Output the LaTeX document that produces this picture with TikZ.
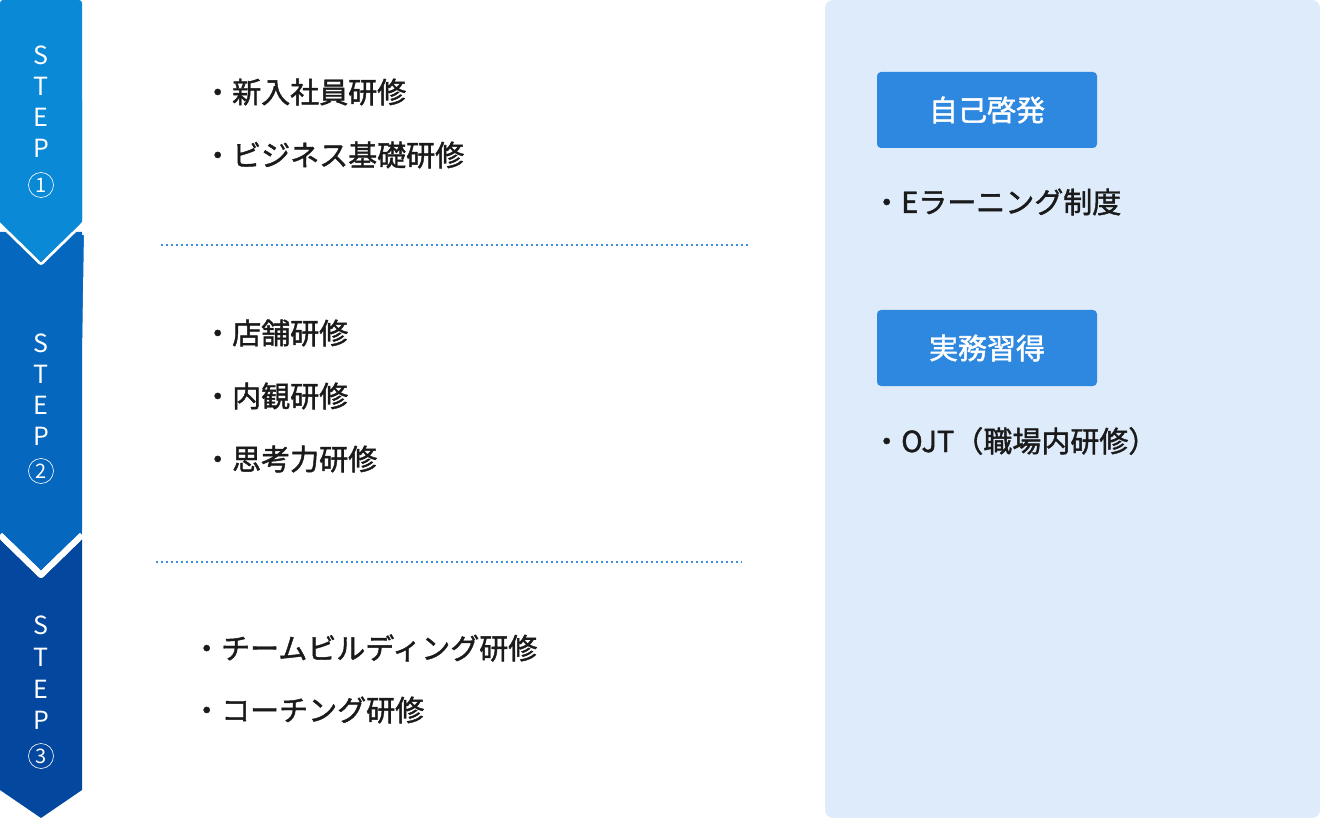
\documentclass[tikz,border=0pt]{standalone}
\usepackage{fontspec}
\setmainfont{Noto Sans CJK JP}
\newfontfamily\jpb{Noto Sans CJK JP}[FakeBold=1.5]
\newfontfamily\stepf{Noto Sans CJK JP}
\definecolor{sone}{HTML}{0A8AD6}
\definecolor{stwo}{HTML}{0568BE}
\definecolor{sthree}{HTML}{03479E}
\definecolor{panel}{HTML}{DDEBFA}
\definecolor{btn}{HTML}{2E88E0}
\definecolor{txt}{HTML}{1A1A1A}
\definecolor{dot}{HTML}{3C8FE0}
\begin{document}
\begin{tikzpicture}[x=1pt,y=-1pt,
  item/.style={anchor=west,font=\jpb\fontsize{29}{30}\selectfont,text=txt,inner sep=0},
  stepl/.style={font=\stepf\fontsize{25}{26}\selectfont,text=white,inner sep=0},
  btnbox/.style={fill=btn,rounded corners=4pt,minimum width=220pt,minimum height=76pt,text=white,font=\jpb\fontsize{29}{30}\selectfont},
  sep/.style={draw=dot,line width=1.6pt,dash pattern=on 1.6pt off 3.4pt}]
\useasboundingbox (0,0) rectangle (1320,818);
\fill[panel,rounded corners=8pt] (825,0) rectangle (1320,818);
% steps
\fill[sthree] (0,540) -- (82,540) -- (82,790) -- (41,818) -- (0,790) -- cycle;
\draw[white,line width=6pt,fill=stwo,line join=round] (-5,232) -- (87,232) -- (82,535) -- (41,575) -- (0,535) -- cycle;
\fill[stwo] (0,232) rectangle (82,540);
\draw[white,line width=6pt,line join=round] (0,535) -- (41,575) -- (82,535);
\fill[stwo] (0,232) -- (82,232) -- (82,530) -- (41,569) -- (0,530) -- cycle;
\draw[white,line width=6pt,line join=round] (0,222) -- (41,262) -- (82,222);
\fill[sone,rounded corners=3pt] (0,222) -- (0,0) -- (82,0) -- (82,222) [sharp corners] -- (41,262) -- cycle;
\fill[sone] (0,100) -- (0,222) -- (41,262) -- (82,222) -- (82,100) -- cycle;
\foreach \n/\y/\t in {a/55/S,b/86/T,c/117/E,d/148/P}{\node[stepl] (s1\n) at (41,\y) {\t};}
\node[stepl,draw=white,circle,line width=0.6pt,minimum size=25pt,inner sep=0,font=\stepf\fontsize{20}{20}\selectfont] (s1e) at (41,185) {1};
\foreach \n/\y/\t in {a/343/S,b/374/T,c/405/E,d/436/P}{\node[stepl] (s2\n) at (41,\y) {\t};}
\node[stepl,draw=white,circle,line width=0.6pt,minimum size=25pt,inner sep=0,font=\stepf\fontsize{20}{20}\selectfont] (s2e) at (41,471) {2};
\foreach \n/\y/\t in {a/625/S,b/657/T,c/689/E,d/720/P}{\node[stepl] (s3\n) at (41,\y) {\t};}
\node[stepl,draw=white,circle,line width=0.6pt,minimum size=25pt,inner sep=0,font=\stepf\fontsize{20}{20}\selectfont] (s3e) at (41,756) {3};
% items
\node[item] (i1) at (203,92) {・新入社員研修};
\node[item] (i2) at (203,155) {・ビジネス基礎研修};
\node[item] (i3) at (203,333) {・店舗研修};
\node[item] (i4) at (203,396) {・内観研修};
\node[item] (i5) at (203,459) {・思考力研修};
\node[item] (i6) at (192,648) {・チームビルディング研修};
\node[item] (i7) at (192,710) {・コーチング研修};
\coordinate (d1a) at (161,245); \coordinate (d1b) at (748,245);
\coordinate (d2a) at (156,562); \coordinate (d2b) at (742,562);
\draw[sep] (d1a) -- (d1b);
\draw[sep] (d2a) -- (d2b);
% right
\node[btnbox] (b1) at (987,110) {自己啓発};
\node[btnbox] (b2) at (987,348) {実務習得};
\node[item] (r1) at (872,202) {・Eラーニング制度};
\node[item] (r2) at (872,441) {・OJT（職場内研修）};
\end{tikzpicture}
\end{document}
